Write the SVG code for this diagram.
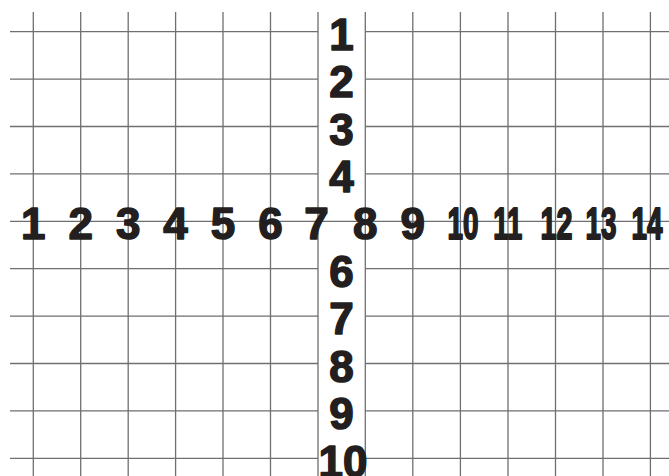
<svg xmlns="http://www.w3.org/2000/svg" width="669" height="476" viewBox="0 0 669 476">
  <style>
    .g { stroke: #6f6f72; stroke-width: 1.3; fill: none; }
    .n { font-family: "Liberation Sans", Arial, sans-serif; font-weight: bold; font-size: 44px; fill: #231f20; stroke: #231f20; stroke-width: 1.5; stroke-linejoin: round; text-anchor: middle; }
    .c { stroke-width: 2; }
  </style>
  <rect x="0" y="0" width="669" height="476" fill="#ffffff"/>
  <g id="grid-vertical" class="g">
    <line x1="33.3" y1="12" x2="33.3" y2="476"/>
    <line x1="80.7" y1="12" x2="80.7" y2="476"/>
    <line x1="128.2" y1="12" x2="128.2" y2="476"/>
    <line x1="175.6" y1="12" x2="175.6" y2="476"/>
    <line x1="223" y1="12" x2="223" y2="476"/>
    <line x1="270.5" y1="12" x2="270.5" y2="476"/>
    <line x1="318" y1="12" x2="318" y2="476"/>
    <line x1="365.3" y1="12" x2="365.3" y2="476"/>
    <line x1="412.8" y1="12" x2="412.8" y2="476"/>
    <line x1="460.4" y1="12" x2="460.4" y2="476"/>
    <line x1="508" y1="12" x2="508" y2="476"/>
    <line x1="555.5" y1="12" x2="555.5" y2="476"/>
    <line x1="603" y1="12" x2="603" y2="476"/>
    <line x1="650.4" y1="12" x2="650.4" y2="476"/>
  </g>
  <g id="grid-horizontal" class="g">
    <path d="M10 31.7H318M365.3 31.7H669"/>
    <path d="M10 79.1H318M365.3 79.1H669"/>
    <path d="M10 126.5H318M365.3 126.5H669"/>
    <path d="M10 173.9H318M365.3 173.9H669"/>
    <path d="M10 221.3H669"/>
    <path d="M10 268.7H318M365.3 268.7H669"/>
    <path d="M10 316.1H318M365.3 316.1H669"/>
    <path d="M10 363.5H318M365.3 363.5H669"/>
    <path d="M10 410.9H318M365.3 410.9H669"/>
    <path d="M10 458.3H318M365.3 458.3H669"/>
  </g>
  <g id="column-numbers" class="n">
    <text x="341.6" y="50">1</text>
    <text x="341.6" y="97.3">2</text>
    <text x="341.6" y="144.7">3</text>
    <text x="341.6" y="192.1">4</text>
    <text x="341.6" y="286.9">6</text>
    <text x="341.6" y="334.3">7</text>
    <text x="341.6" y="381.7">8</text>
    <text x="341.6" y="429.1">9</text>
    <text x="343" y="476.5">10</text>
  </g>
  <g id="row-numbers" class="n">
    <text x="33.3" y="239">1</text>
    <text x="80.7" y="239">2</text>
    <text x="128.2" y="239">3</text>
    <text x="175.6" y="239">4</text>
    <text x="223" y="239">5</text>
    <text x="270.5" y="239">6</text>
    <text x="316.5" y="239">7</text>
    <text x="365.3" y="239">8</text>
    <text x="412.8" y="239">9</text>
    <text class="c" x="463" y="239" textLength="31" lengthAdjust="spacingAndGlyphs">10</text>
    <text class="c" x="507.7" y="239" textLength="29" lengthAdjust="spacingAndGlyphs">11</text>
    <text class="c" x="556.5" y="239" textLength="32" lengthAdjust="spacingAndGlyphs">12</text>
    <text class="c" x="601" y="239" textLength="31" lengthAdjust="spacingAndGlyphs">13</text>
    <text class="c" x="647" y="239" textLength="31" lengthAdjust="spacingAndGlyphs">14</text>
  </g>
</svg>
